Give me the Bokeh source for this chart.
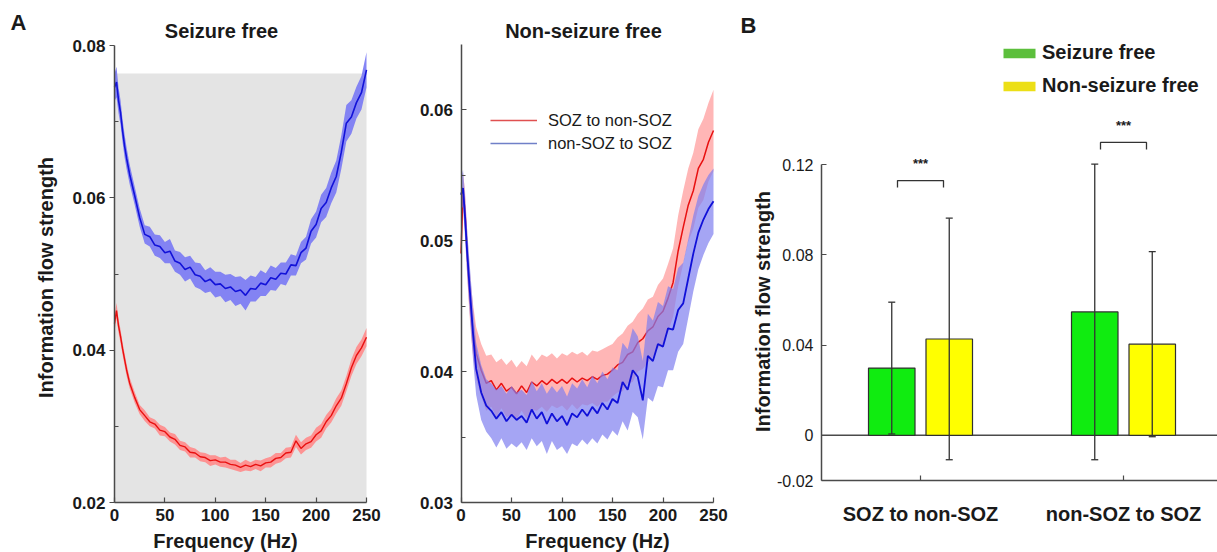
import math
from bokeh.plotting import figure
from bokeh.layouts import row
from bokeh.models import (Range1d, FixedTicker, Label, Legend, LegendItem, Whisker,
                          TeeHead, ColumnDataSource)
from bokeh.core.properties import value
from bokeh.embed import file_html
from bokeh.resources import INLINE

FONT = "Liberation Sans"
H = 552

# ---------------- data ----------------
freqs = [0, 2, 4, 6, 8, 10, 12,
         15, 20, 25, 30, 35, 40, 45, 50, 55, 60,
         65, 70, 75, 80, 85, 90, 95, 100, 105, 110,
         115, 120, 125, 130, 135, 140, 145, 150, 155, 160,
         165, 170, 175, 180, 185, 190, 195, 200, 205, 210,
         215, 220, 225, 230, 235, 240, 245, 250]

# Seizure free: non-SOZ to SOZ (blue)
sf_in_mean = [0.0745, 0.0752, 0.0728, 0.0712, 0.0688, 0.0668, 0.0652,
              0.0631, 0.0603, 0.0574, 0.0552, 0.0549, 0.0538, 0.0536, 0.0528, 0.0530, 0.0517,
              0.0514, 0.0506, 0.0509, 0.0499, 0.0497, 0.0490, 0.0493, 0.0486, 0.0487, 0.0481,
              0.0483, 0.0477, 0.0479, 0.0472, 0.0481, 0.0480, 0.0488, 0.0486, 0.0495, 0.0493,
              0.0501, 0.0500, 0.0512, 0.0511, 0.0528, 0.0534, 0.0556, 0.0565, 0.0586, 0.0594,
              0.0613, 0.0628, 0.0660, 0.0698, 0.0706, 0.0725, 0.0738, 0.0768]
sf_in_sem = [0.0018, 0.0020, 0.0017, 0.0016, 0.0015, 0.0015, 0.0014,
             0.0013, 0.0012, 0.0012, 0.0012, 0.0013, 0.0014, 0.0015, 0.0014, 0.0016, 0.0014,
             0.0015, 0.0016, 0.0015, 0.0016, 0.0017, 0.0015, 0.0016, 0.0017, 0.0016, 0.0018,
             0.0017, 0.0019, 0.0018, 0.0020, 0.0017, 0.0016, 0.0017, 0.0015, 0.0016, 0.0015,
             0.0014, 0.0015, 0.0014, 0.0013, 0.0014, 0.0015, 0.0016, 0.0017, 0.0018, 0.0019,
             0.0020, 0.0021, 0.0022, 0.0024, 0.0022, 0.0021, 0.0022, 0.0023]

# Seizure free: SOZ to non-SOZ (red)
sf_out_mean = [0.0435, 0.0452, 0.0432, 0.0418, 0.0402, 0.0388, 0.0374,
               0.0357, 0.0338, 0.0322, 0.0314, 0.0306, 0.0303, 0.0295, 0.0293, 0.0286, 0.0283,
               0.0275, 0.0273, 0.0266, 0.0265, 0.0260, 0.0259, 0.0255, 0.0256, 0.0253, 0.0253,
               0.0250, 0.0249, 0.0246, 0.0249, 0.0247, 0.0250, 0.0248, 0.0252, 0.0253, 0.0258,
               0.0259, 0.0265, 0.0266, 0.0281, 0.0271, 0.0277, 0.0280, 0.0289, 0.0294, 0.0306,
               0.0314, 0.0327, 0.0337, 0.0356, 0.0377, 0.0393, 0.0403, 0.0417]
sf_out_sem = [0.0010, 0.0010, 0.0009, 0.0009, 0.0008, 0.0008, 0.0008,
              0.0007, 0.0007, 0.0006, 0.0007, 0.0006, 0.0006, 0.0007, 0.0006, 0.0006, 0.0007,
              0.0006, 0.0006, 0.0007, 0.0006, 0.0006, 0.0006, 0.0007, 0.0006, 0.0006, 0.0007,
              0.0006, 0.0007, 0.0006, 0.0007, 0.0006, 0.0006, 0.0007, 0.0006, 0.0007, 0.0007,
              0.0006, 0.0007, 0.0007, 0.0008, 0.0008, 0.0008, 0.0008, 0.0009, 0.0009, 0.0009,
              0.0009, 0.0010, 0.0010, 0.0010, 0.0011, 0.0011, 0.0011, 0.0012]

# Non-seizure free: SOZ to non-SOZ (red)
nsf_out_mean = [0.0490, 0.0538, 0.0522, 0.0492, 0.0466, 0.0446, 0.0431,
                0.0414, 0.0401, 0.0391, 0.0393, 0.0386, 0.0391, 0.0385, 0.0388, 0.0383, 0.0389,
                0.0384, 0.0392, 0.0389, 0.0393, 0.0390, 0.0394, 0.0391, 0.0394, 0.0391, 0.0395,
                0.0392, 0.0395, 0.0393, 0.0396, 0.0394, 0.0397, 0.0398, 0.0401, 0.0405, 0.0407,
                0.0413, 0.0415, 0.0422, 0.0425, 0.0431, 0.0434, 0.0442, 0.0446, 0.0456, 0.0468,
                0.0492, 0.0510, 0.0527, 0.0538, 0.0555, 0.0562, 0.0575, 0.0584]
nsf_out_sem = [0.0012, 0.0014, 0.0016, 0.0017, 0.0018, 0.0019, 0.0020,
               0.0020, 0.0020, 0.0021, 0.0020, 0.0021, 0.0019, 0.0020, 0.0021, 0.0020, 0.0019,
               0.0020, 0.0021, 0.0019, 0.0020, 0.0021, 0.0020, 0.0019, 0.0020, 0.0021, 0.0020,
               0.0021, 0.0020, 0.0019, 0.0020, 0.0021, 0.0020, 0.0021, 0.0020, 0.0021, 0.0022,
               0.0022, 0.0023, 0.0022, 0.0023, 0.0024, 0.0023, 0.0024, 0.0025, 0.0026, 0.0026,
               0.0027, 0.0028, 0.0028, 0.0029, 0.0030, 0.0031, 0.0030, 0.0031]

# Non-seizure free: non-SOZ to SOZ (blue)
nsf_in_mean = [0.0535, 0.0540, 0.0518, 0.0492, 0.0470, 0.0449, 0.0428,
               0.0402, 0.0384, 0.0374, 0.0370, 0.0364, 0.0369, 0.0362, 0.0367, 0.0363, 0.0366,
               0.0361, 0.0371, 0.0364, 0.0369, 0.0360, 0.0368, 0.0362, 0.0366, 0.0359, 0.0368,
               0.0365, 0.0371, 0.0366, 0.0373, 0.0368, 0.0376, 0.0371, 0.0379, 0.0376, 0.0392,
               0.0386, 0.0401, 0.0396, 0.0378, 0.0412, 0.0408, 0.0421, 0.0419, 0.0433, 0.0432,
               0.0447, 0.0452, 0.0471, 0.0490, 0.0506, 0.0516, 0.0524, 0.0530]
nsf_in_sem = [0.0012, 0.0014, 0.0016, 0.0017, 0.0018, 0.0019, 0.0020,
              0.0020, 0.0021, 0.0020, 0.0021, 0.0022, 0.0020, 0.0021, 0.0022, 0.0021, 0.0020,
              0.0021, 0.0022, 0.0021, 0.0022, 0.0023, 0.0021, 0.0022, 0.0023, 0.0022, 0.0023,
              0.0022, 0.0023, 0.0022, 0.0024, 0.0023, 0.0024, 0.0023, 0.0024, 0.0025, 0.0030,
              0.0031, 0.0032, 0.0031, 0.0030, 0.0032, 0.0031, 0.0032, 0.0031, 0.0032, 0.0031,
              0.0032, 0.0031, 0.0030, 0.0029, 0.0028, 0.0027, 0.0026, 0.0025]

series_names = ["SOZ to non-SOZ", "non-SOZ to SOZ"]
panel_titles = ["Seizure free", "Non-seizure free"]

bar_categories = ["SOZ to non-SOZ", "non-SOZ to SOZ"]
bar_groups = ["Seizure free", "Non-seizure free"]
sf_bar_mean = [0.0298, 0.0547]
sf_bar_sd = [0.0292, 0.0655]
nsf_bar_mean = [0.0427, 0.0404]
nsf_bar_sd = [0.0535, 0.0410]
sig_marks = ["***", "***"]
sig_level = [0.1129, 0.1298]

freq_ticks = [0, 50, 100, 150, 200, 250]
freq_tick_labels = ["0", "50", "100", "150", "200", "250"]
a_yticks = [0.02, 0.04, 0.06, 0.08]
a_ytick_labels = ["0.02", "0.04", "0.06", "0.08"]
a_yminor = [0.03, 0.05, 0.07]
n_yticks = [0.03, 0.04, 0.05, 0.06]
n_ytick_labels = ["0.03", "0.04", "0.05", "0.06"]
n_yminor = [0.035, 0.045, 0.055]
b_yticks = [-0.02, 0.0, 0.04, 0.08, 0.12]
b_ytick_labels = ["-0.02", "0", "0.04", "0.08", "0.12"]

for arr in (sf_in_mean, sf_in_sem, sf_out_mean, sf_out_sem,
            nsf_out_mean, nsf_out_sem, nsf_in_mean, nsf_in_sem):
    assert len(arr) == len(freqs), len(arr)

AXIS_COLOR = "#4a4a4a"
TEXT_COLOR = "#1a1a1a"


def scale_from(pa, va, pb, vb, size):
    """Linear pixel->data mapping for a canvas of `size` px; returns range and mapper."""
    k = (vb - va) / (pb - pa)
    v0 = va - pa * k
    v1 = v0 + size * k

    def f(px):
        return v0 + px * k
    return (min(v0, v1), max(v0, v1)), f


def base_fig(width, xr, yr):
    p = figure(width=width, height=H, x_range=Range1d(*xr), y_range=Range1d(*yr),
               output_backend="svg", toolbar_location=None,
               min_border_left=0, min_border_right=0, min_border_top=0, min_border_bottom=0)
    p.title.visible = False
    p.xgrid.visible = False
    p.ygrid.visible = False
    p.outline_line_color = None
    p.background_fill_color = "white"
    p.border_fill_color = "white"
    for ax in (p.xaxis[0], p.yaxis[0]):
        ax.axis_line_color = AXIS_COLOR
        ax.axis_line_width = 1.5
        ax.major_tick_line_color = AXIS_COLOR
        ax.minor_tick_line_color = AXIS_COLOR
        ax.major_tick_line_width = 1.2
        ax.major_label_text_font = FONT
        ax.major_label_text_color = TEXT_COLOR
    return p


def ticks_axis(ax, ticks, labels, minor=None):
    ax.ticker = FixedTicker(ticks=ticks, minor_ticks=minor or [])
    ax.major_label_overrides = {t: l for t, l in zip(ticks, labels)}


def text_label(p, x, y, text, size="20px", style="bold", angle=0.0,
               align="center", baseline="middle"):
    p.add_layout(Label(x=x, y=y, text=text, angle=angle, text_font=FONT,
                       text_font_size=size, text_font_style=style, text_align=align,
                       text_baseline=baseline, text_color=TEXT_COLOR))


def band(p, mean, sem, color, alpha):
    lo = [m - s for m, s in zip(mean, sem)]
    hi = [m + s for m, s in zip(mean, sem)]
    p.varea(x=freqs, y1=lo, y2=hi, fill_color=color, fill_alpha=alpha)


# ---------------- Panel A: Seizure free (canvas x 0..398) ----------------
WA = 398
A_XR, fxA = scale_from(114, 0, 366, 250, WA)
A_YR, fyA = scale_from(502, 0.02, 45, 0.08, H)
pA = base_fig(WA, A_XR, A_YR)

pA.quad(left=[0], right=[250], bottom=[0.02], top=[fyA(73)],
        fill_color="#e4e4e4", line_color=None)
band(pA, sf_out_mean, sf_out_sem, "#ff8a8a", 0.9)
pA.line(freqs, sf_out_mean, line_color="#e81010", line_width=1.4)
band(pA, sf_in_mean, sf_in_sem, "#7878f4", 0.9)
pA.line(freqs, sf_in_mean, line_color="#1212d8", line_width=1.6)

ticks_axis(pA.xaxis[0], freq_ticks, freq_tick_labels)
ticks_axis(pA.yaxis[0], a_yticks, a_ytick_labels, a_yminor)
pA.xaxis.fixed_location = 0.02
pA.xaxis.bounds = (0, 250)
pA.yaxis.fixed_location = 0
pA.yaxis.bounds = (0.02, 0.08)
pA.xaxis.major_tick_in = 5
pA.xaxis.major_tick_out = 0
pA.xaxis.major_label_standoff = 6
pA.yaxis.major_tick_in = 0
pA.yaxis.major_tick_out = 5
pA.yaxis.minor_tick_in = 4
pA.yaxis.minor_tick_out = 0
pA.yaxis.major_label_standoff = 4
for ax in (pA.xaxis[0], pA.yaxis[0]):
    ax.major_label_text_font_size = "17px"
    ax.major_label_text_font_style = "bold"

text_label(pA, fxA(18), fyA(22), "A", size="22px")
text_label(pA, fxA(221), fyA(30), panel_titles[0])
text_label(pA, fxA(45), fyA(277), "Information flow strength", angle=math.pi / 2)
text_label(pA, fxA(225), fyA(551), "Frequency (Hz)", baseline="bottom")

# ---------------- Panel A: Non-seizure free (canvas x 398..728) ----------------
WN = 330
N_XR, fxN = scale_from(62.5, 0, 315, 250, WN)
N_YR, fyN = scale_from(502, 0.03, 109, 0.06, H)
pN = base_fig(WN, N_XR, N_YR)

band(pN, nsf_out_mean, nsf_out_sem, "#ffaeae", 0.9)
pN.line(freqs, nsf_out_mean, line_color="#e81010", line_width=1.5)
band(pN, nsf_in_mean, nsf_in_sem, "#7f7ff0", 0.7)
pN.line(freqs, nsf_in_mean, line_color="#1010d8", line_width=1.8)

# legend-only renderers (zero-length, outside the visible x range)
rl_red = pN.line(x=[-500, -500], y=[0.04, 0.04], line_color="#e05050", line_width=1.6)
rl_blue = pN.line(x=[-500, -500], y=[0.04, 0.04], line_color="#7080c8", line_width=1.6)
legN = Legend(items=[LegendItem(label=series_names[0], renderers=[rl_red]),
                     LegendItem(label=series_names[1], renderers=[rl_blue])],
              location=(92, 399), orientation="vertical",
              glyph_width=47, glyph_height=20, label_height=20, spacing=3,
              label_standoff=11, padding=0, margin=0,
              label_text_font=FONT, label_text_font_size="16.5px",
              label_text_color=TEXT_COLOR,
              border_line_alpha=0, background_fill_alpha=0)
pN.add_layout(legN)

ticks_axis(pN.xaxis[0], freq_ticks, freq_tick_labels)
ticks_axis(pN.yaxis[0], n_yticks, n_ytick_labels, n_yminor)
pN.xaxis.fixed_location = 0.03
pN.xaxis.bounds = (0, 250)
pN.yaxis.fixed_location = 0
pN.yaxis.bounds = (0.03, 0.065)
pN.xaxis.major_tick_in = 5
pN.xaxis.major_tick_out = 0
pN.xaxis.major_label_standoff = 6
pN.yaxis.major_tick_in = 5
pN.yaxis.major_tick_out = 0
pN.yaxis.minor_tick_in = 4
pN.yaxis.minor_tick_out = 0
pN.yaxis.major_label_standoff = 8
for ax in (pN.xaxis[0], pN.yaxis[0]):
    ax.major_label_text_font_size = "17px"
    ax.major_label_text_font_style = "bold"

text_label(pN, fxN(185), fyN(30), panel_titles[1])
text_label(pN, fxN(199), fyN(551), "Frequency (Hz)", baseline="bottom")

# ---------------- Panel B: bars (canvas x 728..1217) ----------------
WB = 489
group_pos = [i + 1 for i in range(len(bar_categories))]
B_XR, fxB = scale_from(192, 1, 395, 2, WB)
B_YR, fyB = scale_from(480, -0.02, 164, 0.12, H)
pB = base_fig(WB, B_XR, B_YR)
unit_px = 203.0
px_y = (B_YR[1] - B_YR[0]) / H

dodge = 28.75 / unit_px
bar_w = 46.5 / unit_px
sf_x = [g - dodge for g in group_pos]
nsf_x = [g + dodge for g in group_pos]
axis_x = fxB(93)

# zero reference line
pB.line(x=[axis_x, B_XR[1]], y=[0, 0], line_color=AXIS_COLOR, line_width=1.5)

pB.vbar(x=sf_x, top=sf_bar_mean, bottom=0, width=bar_w, fill_color="#10ec10",
        line_color="#303030", line_width=1.2)
pB.vbar(x=nsf_x, top=nsf_bar_mean, bottom=0, width=bar_w, fill_color="#ffff00",
        line_color="#303030", line_width=1.2)

wx = sf_x + nsf_x
wm = sf_bar_mean + nsf_bar_mean
ws = sf_bar_sd + nsf_bar_sd
wsrc = ColumnDataSource(dict(base=wx, upper=[m + s for m, s in zip(wm, ws)],
                             lower=[m - s for m, s in zip(wm, ws)]))
pB.add_layout(Whisker(source=wsrc, base="base", upper="upper", lower="lower",
                      level="overlay", line_color="#333333", line_width=1.3,
                      upper_head=TeeHead(size=7, line_color="#333333", line_width=1.3),
                      lower_head=TeeHead(size=7, line_color="#333333", line_width=1.3)))

half = 23 / unit_px
leg = 7 * px_y
xs = [[g - half, g - half, g + half, g + half] for g in group_pos]
ys = [[h - leg, h, h, h - leg] for h in sig_level]
pB.multi_line(xs=xs, ys=ys, line_color="#333333", line_width=1.3)
pB.text(x=group_pos, y=[h + 17 * px_y for h in sig_level], text=sig_marks,
        text_font=value(FONT), text_font_size="13px", text_font_style="bold",
        text_align="center", text_baseline="middle", text_color=TEXT_COLOR)

# legend-only renderers (zero height, outside the visible x range)
rg = pB.vbar(x=[-10], top=[0], bottom=[0], width=0.1, fill_color="#5cbf3c", line_color=None)
ry = pB.vbar(x=[-10], top=[0], bottom=[0], width=0.1, fill_color="#ecdf16", line_color=None)
legB = Legend(items=[LegendItem(label=bar_groups[0], renderers=[rg]),
                     LegendItem(label=bar_groups[1], renderers=[ry])],
              location=(271, 455), orientation="vertical",
              glyph_width=40, glyph_height=12, label_height=22, spacing=10,
              label_standoff=3, padding=0, margin=0,
              label_text_font=FONT, label_text_font_size="20px",
              label_text_font_style="bold", label_text_color=TEXT_COLOR,
              border_line_alpha=0, background_fill_alpha=0)
pB.add_layout(legB)

ticks_axis(pB.xaxis[0], group_pos, bar_categories)
ticks_axis(pB.yaxis[0], b_yticks, b_ytick_labels)
pB.xaxis.fixed_location = -0.02
pB.xaxis.bounds = (axis_x, B_XR[1])
pB.yaxis.fixed_location = axis_x
pB.yaxis.bounds = (b_yticks[0], b_yticks[-1])
pB.xaxis.major_tick_in = 5
pB.xaxis.major_tick_out = 0
pB.xaxis.major_label_standoff = 22
pB.xaxis.major_label_text_font_size = "20px"
pB.xaxis.major_label_text_font_style = "bold"
pB.yaxis.major_tick_in = 5
pB.yaxis.major_tick_out = 0
pB.yaxis.major_label_standoff = 8
pB.yaxis.major_label_text_font_size = "16px"

text_label(pB, fxB(20), fyB(25), "B", size="22px")
text_label(pB, fxB(34), fyB(311), "Information flow strength", angle=math.pi / 2)

layout = row(pA, pN, pB)
open("out.html", "w").write(file_html(layout, INLINE))
